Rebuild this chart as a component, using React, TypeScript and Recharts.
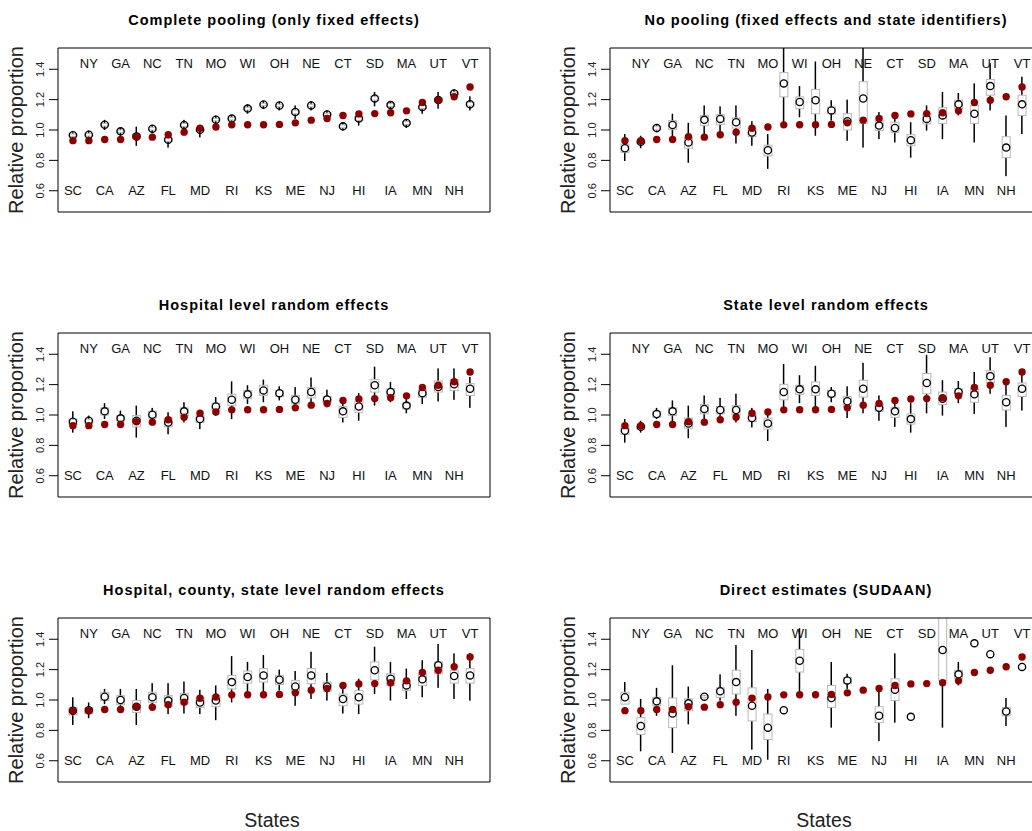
import { Bar, ComposedChart, Scatter, XAxis, YAxis } from 'recharts'

const states = ['SC', 'NY', 'CA', 'GA', 'AZ', 'NC', 'FL', 'TN', 'MD', 'MO', 'RI', 'WI', 'KS', 'OH', 'ME', 'NE', 'NJ', 'CT', 'HI', 'SD', 'IA', 'MA', 'MN', 'UT', 'NH', 'VT']

// red dots, same in every panel
const observed = [0.93, 0.93, 0.937, 0.937, 0.956, 0.953, 0.969, 0.986, 1.012, 1.02, 1.034, 1.035, 1.035, 1.037, 1.047, 1.065, 1.076, 1.095, 1.106, 1.108, 1.114, 1.126, 1.181, 1.196, 1.219, 1.283]

// complete pooling
const pooledEst = [0.965, 0.969, 1.035, 0.991, 0.958, 1.009, 0.936, 1.033, 1.002, 1.068, 1.075, 1.141, 1.168, 1.161, 1.119, 1.161, 1.102, 1.024, 1.075, 1.208, 1.164, 1.046, 1.152, 1.197, 1.241, 1.17]
const pooledLo = [0.94, 0.933, 1.0, 0.962, 0.896, 0.978, 0.884, 0.996, 0.951, 1.036, 1.04, 1.107, 1.138, 1.129, 1.073, 1.129, 1.067, 0.996, 1.029, 1.156, 1.133, 1.013, 1.107, 1.14, 1.207, 1.129]
const pooledHi = [0.984, 0.996, 1.067, 1.013, 1.022, 1.029, 0.962, 1.067, 1.029, 1.096, 1.096, 1.169, 1.191, 1.187, 1.162, 1.191, 1.129, 1.051, 1.107, 1.251, 1.191, 1.073, 1.184, 1.251, 1.267, 1.222]
const pooledQ1 = [0.957, 0.96, 1.026, 0.983, 0.945, 1.0, 0.925, 1.023, 0.992, 1.06, 1.066, 1.132, 1.16, 1.153, 1.106, 1.152, 1.093, 1.014, 1.063, 1.196, 1.155, 1.036, 1.141, 1.184, 1.232, 1.158]
const pooledQ3 = [0.974, 0.978, 1.044, 1.0, 0.971, 1.018, 0.947, 1.043, 1.012, 1.077, 1.084, 1.15, 1.176, 1.17, 1.132, 1.17, 1.111, 1.034, 1.087, 1.22, 1.173, 1.056, 1.163, 1.21, 1.25, 1.182]

// no pooling
const noPoolEst = [0.88, 0.922, 1.013, 1.033, 0.918, 1.067, 1.073, 1.051, 0.984, 0.867, 1.307, 1.184, 1.196, 1.129, 1.058, 1.207, 1.029, 1.013, 0.933, 1.073, 1.096, 1.169, 1.107, 1.289, 0.884, 1.169]
const noPoolLo = [0.796, 0.88, 0.985, 0.951, 0.784, 0.951, 0.973, 0.911, 0.896, 0.744, 1.036, 1.084, 0.962, 1.062, 0.929, 0.884, 0.94, 0.918, 0.818, 0.996, 0.94, 1.096, 0.918, 1.129, 0.696, 0.973]
const noPoolHi = [0.973, 0.962, 1.04, 1.107, 1.047, 1.162, 1.156, 1.162, 1.058, 0.973, 1.62, 1.289, 1.451, 1.196, 1.2, 1.62, 1.118, 1.089, 1.051, 1.162, 1.251, 1.244, 1.307, 1.44, 1.096, 1.351]
const noPoolQ1 = [0.851, 0.91, 1.0, 1.002, 0.88, 1.029, 1.036, 1.013, 0.956, 0.829, 1.218, 1.14, 1.107, 1.107, 1.0, 1.044, 0.996, 0.984, 0.896, 1.04, 1.044, 1.14, 1.044, 1.229, 0.818, 1.096]
const noPoolQ3 = [0.907, 0.935, 1.025, 1.062, 0.951, 1.096, 1.102, 1.08, 1.013, 0.9, 1.378, 1.218, 1.267, 1.151, 1.107, 1.318, 1.062, 1.051, 0.969, 1.107, 1.147, 1.196, 1.162, 1.333, 0.956, 1.229]

// hospital level random effects
const hospEst = [0.956, 0.962, 1.024, 0.978, 0.962, 1.002, 0.951, 1.024, 0.973, 1.056, 1.1, 1.136, 1.162, 1.144, 1.1, 1.151, 1.102, 1.024, 1.056, 1.196, 1.151, 1.062, 1.144, 1.184, 1.202, 1.173]
const hospLo = [0.884, 0.918, 0.973, 0.94, 0.851, 0.962, 0.873, 0.951, 0.907, 0.996, 0.973, 1.073, 1.084, 1.096, 1.033, 1.073, 1.051, 0.951, 0.962, 1.062, 1.084, 1.011, 1.073, 1.089, 1.1, 1.047]
const hospHi = [1.024, 0.996, 1.078, 1.029, 1.062, 1.047, 1.018, 1.084, 1.029, 1.118, 1.222, 1.196, 1.233, 1.189, 1.184, 1.247, 1.167, 1.096, 1.144, 1.318, 1.218, 1.107, 1.196, 1.307, 1.307, 1.251]
const hospQ1 = [0.936, 0.944, 1.0, 0.962, 0.922, 0.98, 0.922, 0.996, 0.951, 1.029, 1.062, 1.107, 1.129, 1.122, 1.073, 1.113, 1.084, 0.984, 1.018, 1.151, 1.122, 1.04, 1.118, 1.151, 1.162, 1.129]
const hospQ3 = [0.973, 0.973, 1.047, 0.996, 0.996, 1.024, 0.98, 1.047, 0.996, 1.078, 1.136, 1.162, 1.196, 1.162, 1.129, 1.18, 1.122, 1.056, 1.091, 1.233, 1.173, 1.078, 1.167, 1.224, 1.233, 1.207]

// state level random effects
const stateEst = [0.896, 0.922, 1.007, 1.024, 0.944, 1.04, 1.033, 1.033, 0.98, 0.944, 1.151, 1.169, 1.169, 1.14, 1.091, 1.173, 1.047, 1.024, 0.973, 1.211, 1.107, 1.151, 1.136, 1.256, 1.084, 1.173]
const stateLo = [0.818, 0.884, 0.973, 0.94, 0.847, 0.962, 0.962, 0.951, 0.918, 0.829, 1.024, 1.078, 1.033, 1.084, 0.98, 1.011, 0.962, 0.922, 0.884, 1.011, 0.996, 1.078, 1.007, 1.14, 0.922, 1.029]
const stateHi = [0.973, 0.962, 1.047, 1.096, 1.062, 1.129, 1.113, 1.14, 1.047, 1.033, 1.336, 1.262, 1.324, 1.184, 1.189, 1.344, 1.129, 1.107, 1.084, 1.396, 1.229, 1.224, 1.284, 1.38, 1.229, 1.296]
const stateQ1 = [0.873, 0.907, 0.984, 0.996, 0.913, 1.007, 1.007, 1.002, 0.958, 0.907, 1.1, 1.136, 1.129, 1.118, 1.056, 1.118, 1.024, 0.984, 0.94, 1.14, 1.069, 1.129, 1.084, 1.211, 1.033, 1.122]
const stateQ3 = [0.922, 0.936, 1.024, 1.047, 0.98, 1.069, 1.056, 1.062, 1.002, 0.98, 1.202, 1.196, 1.218, 1.162, 1.122, 1.229, 1.073, 1.051, 1.007, 1.273, 1.151, 1.173, 1.173, 1.291, 1.129, 1.211]

// hospital, county, state level random effects
const hcsEst = [0.929, 0.933, 1.022, 1.0, 0.956, 1.018, 0.996, 1.013, 0.984, 0.996, 1.118, 1.151, 1.162, 1.133, 1.089, 1.162, 1.089, 1.007, 1.018, 1.196, 1.14, 1.096, 1.136, 1.229, 1.158, 1.162]
const hcsLo = [0.836, 0.88, 0.973, 0.918, 0.836, 0.929, 0.907, 0.911, 0.907, 0.867, 0.984, 1.051, 1.029, 1.062, 0.962, 1.007, 0.996, 0.911, 0.907, 1.04, 0.996, 1.007, 1.018, 1.08, 1.007, 0.996]
const hcsHi = [1.018, 0.984, 1.073, 1.073, 1.073, 1.111, 1.111, 1.122, 1.067, 1.096, 1.289, 1.251, 1.296, 1.2, 1.191, 1.318, 1.178, 1.089, 1.14, 1.351, 1.251, 1.207, 1.262, 1.369, 1.307, 1.307]
const hcsQ1 = [0.902, 0.911, 0.996, 0.969, 0.918, 0.984, 0.956, 0.973, 0.951, 0.956, 1.073, 1.111, 1.118, 1.102, 1.051, 1.107, 1.058, 0.962, 0.973, 1.133, 1.096, 1.062, 1.096, 1.173, 1.111, 1.111]
const hcsQ3 = [0.951, 0.951, 1.051, 1.029, 0.996, 1.051, 1.029, 1.044, 1.018, 1.029, 1.162, 1.191, 1.207, 1.162, 1.129, 1.207, 1.118, 1.04, 1.062, 1.251, 1.173, 1.129, 1.173, 1.251, 1.196, 1.207]

// direct estimates (SUDAAN); null = not shown
const directEst = [1.018, 0.829, 0.991, 0.911, 0.978, 1.022, 1.058, 1.118, 0.962, 0.818, 0.933, 1.258, null, 1.013, 1.129, null, 0.896, 1.067, 0.889, null, 1.329, 1.169, 1.373, 1.302, 0.924, 1.218]
const directLo = [0.98, 0.662, 0.896, 0.651, 0.84, 1.013, 0.996, 0.896, 0.673, 0.607, null, 1.044, null, 0.818, 1.073, null, 0.729, 0.851, null, null, 0.818, 1.096, null, null, 0.829, null]
const directHi = [1.118, 1.007, 1.08, 1.229, 1.089, 1.033, 1.169, 1.362, 1.329, 1.073, null, 1.473, null, 1.251, 1.173, null, 1.067, 1.307, null, null, 1.62, 1.251, null, null, 1.013, null]
const directQ1 = [0.973, 0.773, 0.962, 0.818, 0.929, 1.015, 1.018, 1.04, 0.862, 0.74, null, 1.184, null, 0.951, 1.107, null, 0.851, 0.996, null, null, 1.129, 1.14, null, null, 0.896, null]
const directQ3 = [1.051, 0.884, 1.018, 1.013, 1.007, 1.028, 1.08, 1.196, 1.08, 0.907, null, 1.333, null, 1.096, 1.147, null, 0.956, 1.14, null, null, 1.6, 1.196, null, null, 0.951, null]

const Y_DOMAIN: [number, number] = [0.46, 1.54]
const Y_TICKS = [0.6, 0.8, 1.0, 1.2, 1.4]
const LABEL_LOW = 0.6
const LABEL_HIGH = 1.44
const FONT = '"Liberation Sans", Arial, Helvetica, sans-serif'

type Num = number | null

const panels = [
  { title: 'Complete pooling (only fixed effects)', est: pooledEst, lo: pooledLo, hi: pooledHi, q1: pooledQ1, q3: pooledQ3, col: 0, row: 0 },
  { title: 'No pooling (fixed effects and state identifiers)', est: noPoolEst, lo: noPoolLo, hi: noPoolHi, q1: noPoolQ1, q3: noPoolQ3, col: 1, row: 0 },
  { title: 'Hospital level random effects', est: hospEst, lo: hospLo, hi: hospHi, q1: hospQ1, q3: hospQ3, col: 0, row: 1 },
  { title: 'State level random effects', est: stateEst, lo: stateLo, hi: stateHi, q1: stateQ1, q3: stateQ3, col: 1, row: 1 },
  { title: 'Hospital, county, state level random effects', est: hcsEst, lo: hcsLo, hi: hcsHi, q1: hcsQ1, q3: hcsQ3, col: 0, row: 2 },
  { title: 'Direct estimates (SUDAAN)', est: directEst, lo: directLo, hi: directHi, q1: directQ1, q3: directQ3, col: 1, row: 2 },
]

const COL_X = [0, 552]
const ROW_Y = [0, 285, 570]

const whiskerShape = (p: any) => {
  if (!p.payload.whisker) return <g />
  return <rect x={p.x} y={Math.min(p.y, p.y + p.height)} width={p.width} height={Math.abs(p.height)} fill='#000' />
}

const boxShape = (p: any) => {
  if (!p.payload.box) return <g />
  return (
    <rect
      x={p.x}
      y={Math.min(p.y, p.y + p.height)}
      width={p.width}
      height={Math.abs(p.height)}
      fill='#fff'
      stroke='#b8b8b8'
      strokeWidth={1}
    />
  )
}

const estShape = (p: any) => {
  if (p.payload.est == null || !Number.isFinite(p.cy)) return <g />
  return <circle cx={p.cx} cy={p.cy} r={3.6} fill='none' stroke='#000' strokeWidth={1.3} />
}

const refShape = (p: any) => <circle cx={p.cx} cy={p.cy} r={3.7} fill='#8b0000' />

const labelShape = (p: any) => (
  <text x={p.cx} y={p.cy} textAnchor='middle' dominantBaseline='central' fontSize={13} fontFamily={FONT} fill='#111'>
    {p.payload.state}
  </text>
)

const YTick = (p: any) => {
  const x = p.x - 3
  return (
    <text x={x} y={p.y} transform={`rotate(-90 ${x} ${p.y})`} textAnchor='middle' fontSize={11} fontFamily={FONT} fill='#222'>
      {Number(p.payload.value).toFixed(1)}
    </text>
  )
}

function Panel({ est, lo, hi, q1, q3 }: { est: Num[]; lo: Num[]; hi: Num[]; q1: Num[]; q3: Num[] }) {
  const data = states.map((s, i) => ({
    state: s,
    top: i % 2 === 1,
    ref: observed[i],
    est: est[i],
    whisker: lo[i] != null && hi[i] != null ? [lo[i], hi[i]] : null,
    box: q1[i] != null && q3[i] != null ? [q1[i], q3[i]] : null,
  }))

  return (
    <ComposedChart width={520} height={240} data={data} margin={{ top: 47, right: 29, bottom: 27, left: 57 }}>
      <XAxis xAxisId='a' dataKey='state' type='category' height={1} tick={false} tickLine={false} axisLine={{ stroke: '#000' }} padding={{ left: 7, right: 12 }} />
      <XAxis xAxisId='b' dataKey='state' type='category' orientation='top' height={1} tick={false} tickLine={false} axisLine={{ stroke: '#000' }} padding={{ left: 7, right: 12 }} />
      <YAxis yAxisId='l' type='number' domain={Y_DOMAIN} allowDataOverflow ticks={Y_TICKS} width={1} tickSize={9} tick={YTick} tickLine={{ stroke: '#000' }} axisLine={{ stroke: '#000' }} />
      <YAxis yAxisId='r' type='number' orientation='right' domain={Y_DOMAIN} allowDataOverflow width={1} tick={false} tickLine={false} axisLine={{ stroke: '#000' }} />
      <Bar xAxisId='a' yAxisId='l' dataKey='whisker' barSize={1.5} shape={whiskerShape} isAnimationActive={false} />
      <Bar xAxisId='b' yAxisId='l' dataKey='box' barSize={8} shape={boxShape} isAnimationActive={false} />
      <Scatter xAxisId='a' yAxisId='l' dataKey={(d: any) => (d.top ? LABEL_HIGH : LABEL_LOW)} shape={labelShape} isAnimationActive={false} />
      <Scatter xAxisId='a' yAxisId='l' dataKey='est' shape={estShape} isAnimationActive={false} />
      <Scatter xAxisId='a' yAxisId='l' dataKey='ref' shape={refShape} isAnimationActive={false} />
    </ComposedChart>
  )
}

export default function App() {
  return (
    <div style={{ position: 'absolute', left: 0, top: 0, width: 1032, height: 831, overflow: 'hidden', background: '#fff' }}>
      {panels.map((p) => (
        <div key={p.title} style={{ position: 'absolute', left: COL_X[p.col], top: ROW_Y[p.row] }}>
          <Panel est={p.est} lo={p.lo} hi={p.hi} q1={p.q1} q3={p.q3} />
        </div>
      ))}
      <svg width={1032} height={831} style={{ position: 'absolute', left: 0, top: 0, pointerEvents: 'none' }}>
        {panels.map((p) => {
          const ox = COL_X[p.col]
          const oy = ROW_Y[p.row]
          return (
            <g key={p.title}>
              <text x={ox + 274} y={oy + 20} textAnchor='middle' dominantBaseline='central' fontSize={14.5} fontWeight='bold' letterSpacing={1} fontFamily={FONT} fill='#000'>
                {p.title}
              </text>
              <text x={ox + 23} y={oy + 130} transform={`rotate(-90 ${ox + 23} ${oy + 130})`} textAnchor='middle' fontSize={20} fontFamily={FONT} fill='#222'>
                Relative proportion
              </text>
              {p.row === 2 && (
                <text x={ox + 272} y={820} textAnchor='middle' dominantBaseline='central' fontSize={19.5} fontFamily={FONT} fill='#222'>
                  States
                </text>
              )}
            </g>
          )
        })}
      </svg>
    </div>
  )
}
